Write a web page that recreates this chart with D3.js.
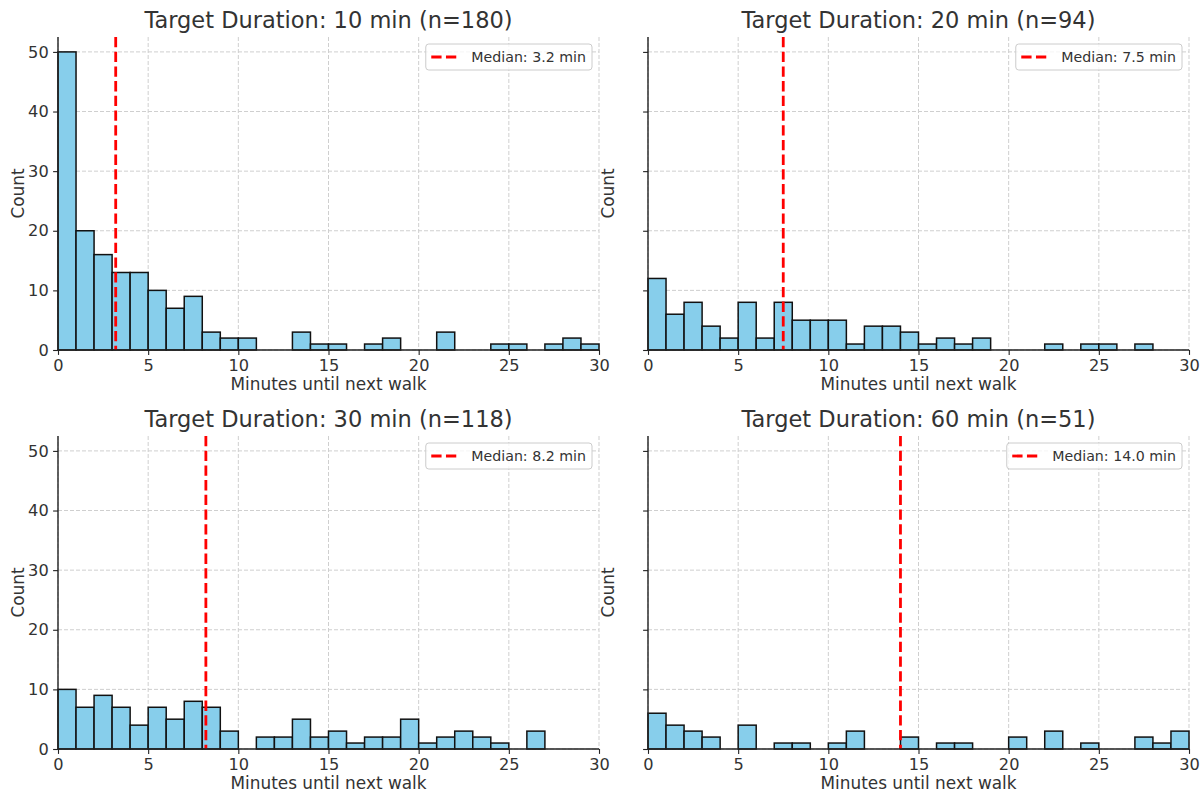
<!DOCTYPE html>
<html>
<head>
<meta charset="utf-8">
<script src="https://cdn.jsdelivr.net/npm/d3@7"></script>
<style>
	body { margin: 0; background: #fff; }
	svg { display: block; font-family: "DejaVu Sans", sans-serif; }
	.tick text { fill: #333; }
</style>
</head>
<body>
<svg id="chart"></svg>
<script>
// histogram counts, one bin per minute (0-1, 1-2, ... 29-30)
var targets = [10, 20, 30, 60];
var sampleSizes = [180, 94, 118, 51];
var medians = [3.2, 7.5, 8.2, 14.0];
var counts10 = [50, 20, 16, 13, 13, 10, 7, 9, 3, 2, 2, 0, 0, 3, 1, 1, 0, 1, 2, 0, 0, 3, 0, 0, 1, 1, 0, 1, 2, 1];
var counts20 = [12, 6, 8, 4, 2, 8, 2, 8, 5, 5, 5, 1, 4, 4, 3, 1, 2, 1, 2, 0, 0, 0, 1, 0, 1, 1, 0, 1, 0, 0];
var counts30 = [10, 7, 9, 7, 4, 7, 5, 8, 7, 3, 0, 2, 2, 5, 2, 3, 1, 2, 2, 5, 1, 2, 3, 2, 1, 0, 3, 0, 0, 0];
var counts60 = [6, 4, 3, 2, 0, 4, 0, 1, 1, 0, 1, 3, 0, 0, 2, 0, 1, 1, 0, 0, 2, 0, 3, 0, 1, 0, 0, 2, 1, 3];
var allCounts = [counts10, counts20, counts30, counts60];
var xTicks = [0, 5, 10, 15, 20, 25, 30];
var yTicks = [0, 10, 20, 30, 40, 50];

var w = 1203;
var h = 795;

var svg = d3.select("#chart")
	.attr("width", w)
	.attr("height", h);

// panel boxes (plot area only)
var cols = [58, 648];
var rows = [37, 436];
var pw = 541;
var ph = 313;

var yMax = 52.5; // shared y, 5% headroom over 50

targets.forEach(function (t, k) {
	var left = cols[k % 2];
	var top = rows[Math.floor(k / 2)];
	var isLeft = k % 2 === 0;
	var counts = allCounts[k];

	var x = d3.scaleLinear().domain([0, 30]).range([0, pw]);
	var y = d3.scaleLinear().domain([0, yMax]).range([ph, 0]);

	var g = svg.append("g")
		.attr("transform", "translate(" + left + "," + top + ")");

	//grid first so it sits under the bars
	g.append("g").selectAll("line.gx")
		.data(xTicks)
		.enter().append("line")
		.attr("x1", d => x(d)).attr("x2", d => x(d))
		.attr("y1", 0).attr("y2", ph)
		.style("stroke", "#cfcfcf")
		.style("stroke-width", 1)
		.style("stroke-dasharray", "4,2");

	g.append("g").selectAll("line.gy")
		.data(yTicks)
		.enter().append("line")
		.attr("x1", 0).attr("x2", pw)
		.attr("y1", d => y(d)).attr("y2", d => y(d))
		.style("stroke", "#cfcfcf")
		.style("stroke-width", 1)
		.style("stroke-dasharray", "4,2");

	g.append("g").selectAll("rect")
		.data(counts)
		.enter().append("rect")
		.attr("x", (d, i) => x(i))
		.attr("width", (d, i) => x(i + 1) - x(i))
		.attr("y", d => y(d))
		.attr("height", d => y(0) - y(d))
		.style("fill", "#87CEEB")
		.style("stroke", "#111")
		.style("stroke-width", 1.5);

	//median marker
	g.append("line")
		.attr("x1", x(medians[k])).attr("x2", x(medians[k]))
		.attr("y1", 0).attr("y2", ph)
		.style("stroke", "#ff0000")
		.style("stroke-width", 2.8)
		.style("stroke-dasharray", "10.3,4.4");

	var xAxis = d3.axisBottom(x)
		.tickValues(xTicks)
		.tickSize(4.9)
		.tickPadding(4.4)
		.tickFormat(d3.format("d"));

	var yAxis = d3.axisLeft(y)
		.tickValues(yTicks)
		.tickSize(4.9)
		.tickPadding(4.4)
		.tickFormat(isLeft ? d3.format("d") : "");

	var gx = g.append("g")
		.attr("transform", "translate(0," + ph + ")")
		.call(xAxis);
	gx.select(".domain").attr("d", "M0,0H" + pw);

	var gy = g.append("g").call(yAxis);
	gy.select(".domain").attr("d", "M0,0V" + ph);

	[gx, gy].forEach(function (a) {
		a.selectAll(".domain").style("stroke", "#222").style("stroke-width", 1.4);
		a.selectAll(".tick line").style("stroke", "#222").style("stroke-width", 1.1);
		a.selectAll(".tick text")
			.style("font-size", "16.2px")
			.style("font-family", "DejaVu Sans");
	});

	g.append("text")
		.attr("x", pw / 2)
		.attr("y", -9)
		.attr("text-anchor", "middle")
		.style("font-size", "22.5px")
		.style("fill", "#333")
		.text("Target Duration: " + t + " min (n=" + sampleSizes[k] + ")");

	g.append("text")
		.attr("x", pw / 2)
		.attr("y", ph + 40)
		.attr("text-anchor", "middle")
		.style("font-size", "16.9px")
		.style("fill", "#333")
		.text("Minutes until next walk");

	g.append("text")
		.attr("transform", "translate(" + (-34) + "," + (ph / 2) + ") rotate(-90)")
		.attr("text-anchor", "middle")
		.style("font-size", "16.9px")
		.style("fill", "#333")
		.text("Count");

	//legend, upper right
	var lg = g.append("g");
	var label = "Median: " + medians[k].toFixed(1) + " min";
	var txt = lg.append("text")
		.attr("y", 0)
		.style("font-size", "14.2px")
		.style("fill", "#333")
		.text(label);
	var tw = txt.node().getComputedTextLength();
	var boxW = 5.5 + 28 + 12 + tw + 6;
	var boxH = 26;
	var bx = pw - 7 - boxW;
	var by = 7;
	lg.insert("rect", "text")
		.attr("x", bx).attr("y", by)
		.attr("width", boxW).attr("height", boxH)
		.attr("rx", 3)
		.style("fill", "#fff")
		.style("fill-opacity", 0.8)
		.style("stroke", "#cccccc")
		.style("stroke-width", 1);
	lg.append("line")
		.attr("x1", bx + 5.5).attr("x2", bx + 5.5 + 28)
		.attr("y1", by + boxH / 2).attr("y2", by + boxH / 2)
		.style("stroke", "#ff0000")
		.style("stroke-width", 2.8)
		.style("stroke-dasharray", "10.3,4.4");
	txt.attr("x", bx + 5.5 + 28 + 12)
		.attr("y", by + boxH / 2 + 5);
});
</script>
</body>
</html>
